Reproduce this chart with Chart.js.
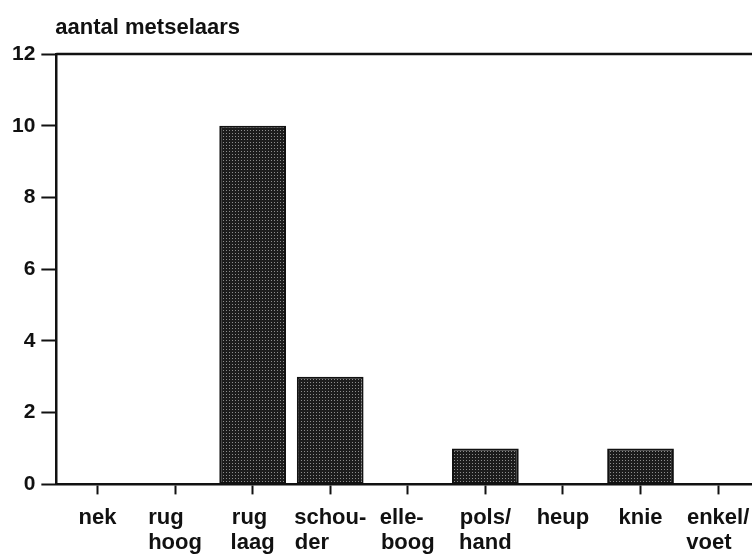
<!DOCTYPE html>
<html>
<head>
<meta charset="utf-8">
<script src="https://cdn.jsdelivr.net/npm/chart.js@4/dist/chart.umd.min.js"></script>
<style>
  html, body { margin: 0; padding: 0; background: #fff; overflow: hidden; }
  #wrap { width: 752px; height: 555px; overflow: hidden; }
</style>
</head>
<body>
<!-- de scan is rechts afgesneden: canvas iets breder dan het venster -->
<div id="wrap"><canvas id="chart" width="770" height="555"></canvas></div>
<script>
// lichaamsdeel met klachten, aantal metselaars per lichaamsdeel
const yTitle = "aantal metselaars";
const categories = [["nek"], ["rug", "hoog"], ["rug", "laag"], ["schou-", "der"], ["elle-", "boog"], ["pols/", "hand"], ["heup"], ["knie"], ["enkel/", "voet"]];
const counts = [0, 0, 10, 3, 0, 1, 0, 1, 0];
const yTicks = [0, 2, 4, 6, 8, 10, 12];

const FONT = "'Liberation Sans', Arial, Helvetica, sans-serif";
const LABEL_SIZE = 22;

// gestippeld rasterpatroon zoals in de scan
function makePattern() {
  const c = document.createElement("canvas");
  c.width = 3;
  c.height = 3;
  const g = c.getContext("2d");
  g.fillStyle = "#1c1c1c";
  g.fillRect(0, 0, 3, 3);
  g.fillStyle = "#8c8c8c";
  g.fillRect(1, 1, 1, 1);
  return g.createPattern(c, "repeat");
}

// regels links uitlijnen binnen een gecentreerd blok: kortere regel aanvullen met spaties
const measure = document.createElement("canvas").getContext("2d");
measure.font = "bold " + LABEL_SIZE + "px " + FONT;
function alignLeft(lines) {
  const w = Math.max(...lines.map((l) => measure.measureText(l).width));
  const sp = measure.measureText(" ").width;
  return lines.map((l) => {
    let s = l;
    while (measure.measureText(s + " ").width <= w + sp / 2) s += " ";
    return s;
  });
}
const tickLabels = categories.map(alignLeft);

const frame = {
  id: "frame",
  afterDraw(chart) {
    const { ctx, chartArea } = chart;
    ctx.save();
    ctx.strokeStyle = "#111";
    ctx.lineWidth = 2.5;
    ctx.beginPath();
    ctx.moveTo(chartArea.left, chartArea.top);
    ctx.lineTo(chartArea.right, chartArea.top);
    ctx.stroke();
    ctx.fillStyle = "#111";
    ctx.font = "bold 22px " + FONT;
    ctx.textBaseline = "alphabetic";
    ctx.fillText(yTitle, chartArea.left - 1, chartArea.top - 20);
    ctx.restore();
  },
};

new Chart(document.getElementById("chart"), {
  type: "bar",
  data: {
    datasets: [{
      data: counts.map((v, i) => ({ x: i + 1, y: v })),
      backgroundColor: makePattern(),
      borderColor: "#111",
      borderWidth: 2,
      borderSkipped: false,
      categoryPercentage: 1,
      barPercentage: 0.86,
    }],
  },
  options: {
    responsive: false,
    animation: false,
    layout: { padding: { top: 54, right: 10, left: 6, bottom: -12 } },
    plugins: { legend: { display: false }, tooltip: { enabled: false } },
    scales: {
      x: {
        type: "linear",
        offset: false,
        min: 0.47,
        max: 9.54,
        afterBuildTicks: (axis) => { axis.ticks = categories.map((c, i) => ({ value: i + 1 })); },
        ticks: {
          autoSkip: false,
          maxRotation: 0,
          padding: 11,
          color: "#111",
          font: { family: FONT, size: LABEL_SIZE, weight: "bold", lineHeight: 1.15 },
          callback: (v) => tickLabels[v - 1],
        },
        grid: { offset: false, drawOnChartArea: false, tickLength: 10, tickWidth: 2, tickColor: "#111" },
        border: { color: "#111", width: 2.5 },
      },
      y: {
        min: 0,
        max: 12,
        afterBuildTicks: (axis) => { axis.ticks = yTicks.map((v) => ({ value: v })); },
        ticks: {
          padding: 6,
          color: "#111",
          font: { family: FONT, size: 21, weight: "bold" },
        },
        grid: { drawOnChartArea: false, tickLength: 15, tickWidth: 2, tickColor: "#111" },
        border: { color: "#111", width: 2.5 },
      },
    },
  },
  plugins: [frame],
});
</script>
</body>
</html>
